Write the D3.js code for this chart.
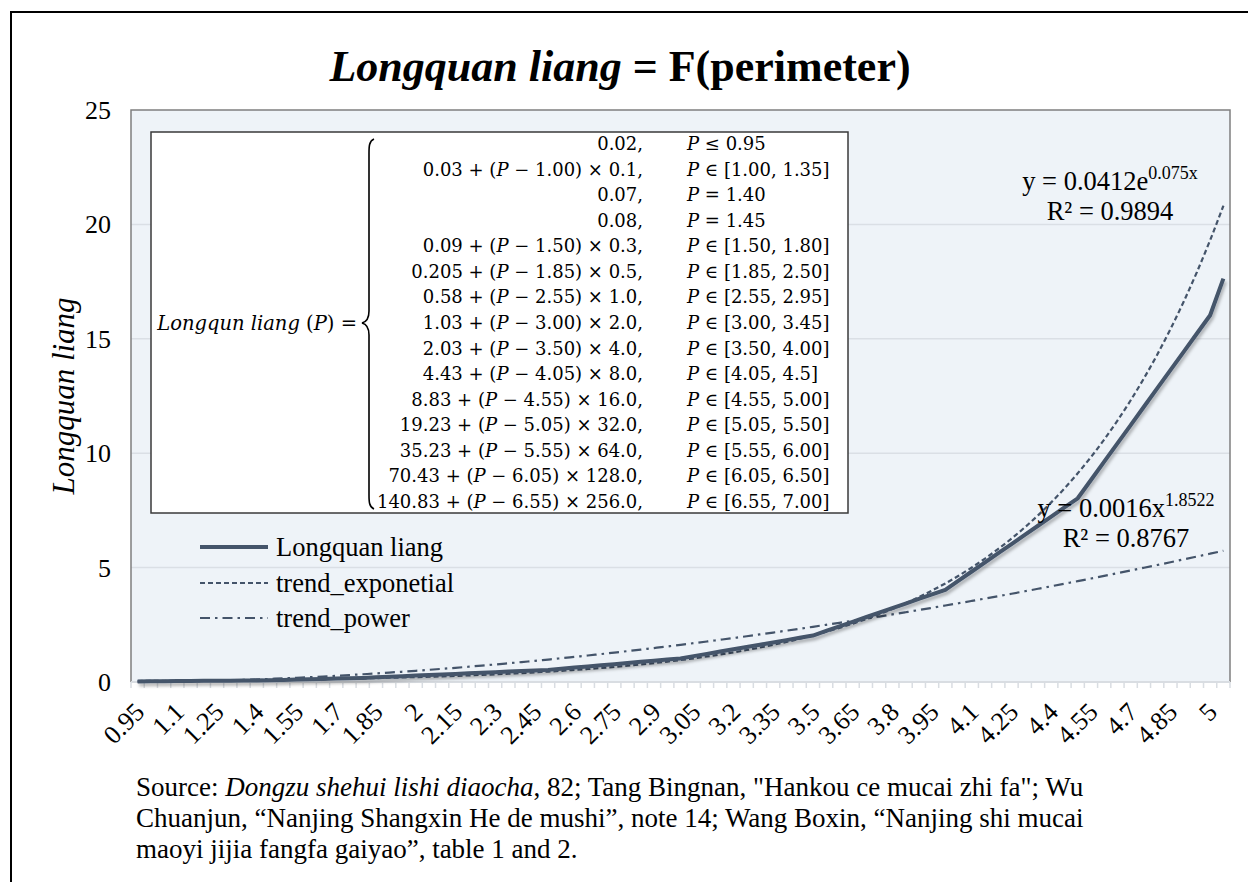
<!DOCTYPE html>
<html>
<head>
<meta charset="utf-8">
<script src="https://cdn.jsdelivr.net/npm/d3@7"></script>
<style>
  html, body { margin: 0; padding: 0; background: #fff; }
  svg { display: block; }
  text { font-family: "Liberation Serif", "Times New Roman", serif; fill: #000; }
  .math { font-family: "DejaVu Serif", serif; }
</style>
</head>
<body>
<svg id="chart" width="1248" height="882"></svg>
<script>
// perimeter categories (x axis) and Longquan liang values
const perimeter = [
  0.95, 1, 1.05, 1.1, 1.15, 1.2, 1.25, 1.3, 1.35, 1.4, 1.45, 1.5, 1.55, 1.6, 1.65, 1.7, 1.75, 1.8,
  1.85, 1.9, 1.95, 2, 2.05, 2.1, 2.15, 2.2, 2.25, 2.3, 2.35, 2.4, 2.45, 2.5, 2.55, 2.6, 2.65, 2.7,
  2.75, 2.8, 2.85, 2.9, 2.95, 3, 3.05, 3.1, 3.15, 3.2, 3.25, 3.3, 3.35, 3.4, 3.45, 3.5, 3.55, 3.6,
  3.65, 3.7, 3.75, 3.8, 3.85, 3.9, 3.95, 4, 4.05, 4.1, 4.15, 4.2, 4.25, 4.3, 4.35, 4.4, 4.45, 4.5,
  4.55, 4.6, 4.65, 4.7, 4.75, 4.8, 4.85, 4.9, 4.95, 5, 5.05
];
const liang = [
  0.02, 0.03, 0.035, 0.04, 0.045, 0.05, 0.055, 0.06, 0.065, 0.07, 0.08, 0.09, 0.105, 0.12, 0.135, 0.15, 0.165, 0.18,
  0.205, 0.23, 0.255, 0.28, 0.305, 0.33, 0.355, 0.38, 0.405, 0.43, 0.455, 0.48, 0.505, 0.53, 0.58, 0.63, 0.68, 0.73,
  0.78, 0.83, 0.88, 0.93, 0.98, 1.03, 1.13, 1.23, 1.33, 1.43, 1.53, 1.63, 1.73, 1.83, 1.93, 2.03, 2.23, 2.43,
  2.63, 2.83, 3.03, 3.23, 3.43, 3.63, 3.83, 4.03, 4.43, 4.83, 5.23, 5.63, 6.03, 6.43, 6.83, 7.23, 7.63, 8.03,
  8.83, 9.63, 10.43, 11.23, 12.03, 12.83, 13.63, 14.43, 15.23, 16.03, 17.63
];

// Excel trendline coefficients as printed on the chart (x = category number 1..83)
const expFit = [0.0412, 0.075];
const powerFit = [0.0016, 1.8522];

const yTicks = [0, 5, 10, 15, 20, 25];
const xLabelStep = 3;

const legendNames = ["Longquan liang", "trend_exponetial", "trend_power"];

// piecewise definition shown in the inset box
const formulaLeft = [
  "0.02,", "0.03 + (P − 1.00) × 0.1,", "0.07,", "0.08,", "0.09 + (P − 1.50) × 0.3,",
  "0.205 + (P − 1.85) × 0.5,", "0.58 + (P − 2.55) × 1.0,", "1.03 + (P − 3.00) × 2.0,",
  "2.03 + (P − 3.50) × 4.0,", "4.43 + (P − 4.05) × 8.0,", "8.83 + (P − 4.55) × 16.0,",
  "19.23 + (P − 5.05) × 32.0,", "35.23 + (P − 5.55) × 64.0,", "70.43 + (P − 6.05) × 128.0,",
  "140.83 + (P − 6.55) × 256.0,"
];
const formulaRight = [
  "P ≤ 0.95", "P ∈ [1.00, 1.35]", "P = 1.40", "P = 1.45", "P ∈ [1.50, 1.80]",
  "P ∈ [1.85, 2.50]", "P ∈ [2.55, 2.95]", "P ∈ [3.00, 3.45]", "P ∈ [3.50, 4.00]",
  "P ∈ [4.05, 4.5]", "P ∈ [4.55, 5.00]", "P ∈ [5.05, 5.50]", "P ∈ [5.55, 6.00]",
  "P ∈ [6.05, 6.50]", "P ∈ [6.55, 7.00]"
];

const sourceLines = [
  [["Source: ", false], ["Dongzu shehui lishi diaocha", true], [", 82; Tang Bingnan, \"Hankou ce mucai zhi fa\"; Wu", false]],
  [["Chuanjun, “Nanjing Shangxin He de mushi”, note 14; Wang Boxin, “Nanjing shi mucai", false]],
  [["maoyi jijia fangfa gaiyao”, table 1 and 2.", false]]
];

const svg = d3.select("#chart");
const lineColor = "#44546a";

const plot = { left: 131, right: 1230, top: 110, bottom: 682 };

const x = d3.scaleBand()
  .domain(d3.range(perimeter.length))
  .range([plot.left, plot.right]);
const xc = i => x(i) + x.bandwidth() / 2;

const y = d3.scaleLinear()
  .domain([0, 25])
  .range([plot.bottom, plot.top]);

// drop shadow for the main series
const defs = svg.append("defs");
defs.append("filter")
  .attr("id", "shadow")
  .attr("x", "-5%").attr("y", "-5%").attr("width", "110%").attr("height", "120%")
  .append("feDropShadow")
  .attr("dx", 1.5).attr("dy", 3).attr("stdDeviation", 1.6)
  .attr("flood-color", "#000").attr("flood-opacity", 0.28);

// outer frame (only the top and left edges fall inside the picture)
svg.append("path")
  .attr("d", "M11,882V12H1248")
  .attr("fill", "none")
  .attr("stroke", "#000")
  .attr("stroke-width", 2);

// title
const title = svg.append("text")
  .attr("x", 620).attr("y", 81)
  .attr("text-anchor", "middle")
  .attr("font-size", 44)
  .attr("font-weight", "bold");
title.append("tspan").attr("font-style", "italic").text("Longquan liang");
title.append("tspan").text(" = F(perimeter)");

// plot area
svg.append("rect")
  .attr("x", plot.left).attr("y", plot.top)
  .attr("width", plot.right - plot.left).attr("height", plot.bottom - plot.top)
  .attr("fill", "#eef3f8");

svg.append("g")
  .selectAll("line")
  .data(yTicks.filter(t => t > 0 && t < 25))
  .join("line")
  .attr("x1", plot.left).attr("x2", plot.right)
  .attr("y1", d => y(d)).attr("y2", d => y(d))
  .attr("stroke", "#dadfe5")
  .attr("stroke-width", 1.5);

svg.append("path")
  .attr("d", `M${plot.left},${plot.bottom}V${plot.top}H${plot.right}V${plot.bottom}`)
  .attr("fill", "none")
  .attr("stroke", "#7f7f7f")
  .attr("stroke-width", 1.5);

// y axis labels
const yAxis = svg.append("g")
  .attr("transform", `translate(${plot.left - 20}, 0)`)
  .call(d3.axisLeft(y).tickValues(yTicks).tickSize(0).tickPadding(0));
yAxis.select(".domain").remove();
yAxis.selectAll("text")
  .attr("font-size", 26)
  .attr("font-family", "Liberation Serif, serif")
  .attr("fill", "#000")
  .attr("dy", "0.33em");

svg.append("text")
  .attr("transform", `translate(74, ${(plot.top + plot.bottom) / 2}) rotate(-90)`)
  .attr("text-anchor", "middle")
  .attr("font-size", 31)
  .attr("font-style", "italic")
  .text("Longquan liang");

// x axis: light line with a minor tick at every category boundary
svg.append("line")
  .attr("x1", plot.left).attr("x2", plot.right)
  .attr("y1", plot.bottom).attr("y2", plot.bottom)
  .attr("stroke", "#d9dde2")
  .attr("stroke-width", 2);

svg.append("g")
  .selectAll("line")
  .data(d3.range(perimeter.length + 1))
  .join("line")
  .attr("x1", i => plot.left + i * x.bandwidth())
  .attr("x2", i => plot.left + i * x.bandwidth())
  .attr("y1", plot.bottom).attr("y2", plot.bottom + 6)
  .attr("stroke", "#d9dde2")
  .attr("stroke-width", 1.5);

svg.append("g")
  .selectAll("text")
  .data(d3.range(0, perimeter.length, xLabelStep))
  .join("text")
  .attr("transform", i => `translate(${xc(i) + 2}, ${plot.bottom + 25}) rotate(-45)`)
  .attr("text-anchor", "end")
  .attr("dy", "0.35em")
  .attr("font-size", 26)
  .text(i => String(perimeter[i]));

// series
const line = d3.line()
  .x((d, i) => xc(i))
  .y(d => y(d));

const expValues = perimeter.map((p, i) => expFit[0] * Math.exp(expFit[1] * (i + 1)));
const powerValues = perimeter.map((p, i) => powerFit[0] * Math.pow(i + 1, powerFit[1]));

svg.append("path")
  .datum(powerValues)
  .attr("d", line.curve(d3.curveMonotoneX))
  .attr("fill", "none")
  .attr("stroke", lineColor)
  .attr("stroke-width", 2.2)
  .attr("stroke-dasharray", "10,5,2.5,5");

svg.append("path")
  .datum(expValues)
  .attr("d", line.curve(d3.curveMonotoneX))
  .attr("fill", "none")
  .attr("stroke", lineColor)
  .attr("stroke-width", 2.2)
  .attr("stroke-dasharray", "5,3");

svg.append("path")
  .datum(liang)
  .attr("d", line.curve(d3.curveLinear))
  .attr("fill", "none")
  .attr("stroke", lineColor)
  .attr("stroke-width", 4)
  .attr("stroke-linejoin", "round")
  .attr("filter", "url(#shadow)");

// trendline labels
function trendLabel(cx, by, base, sup, r2) {
  const t = svg.append("text")
    .attr("x", cx).attr("y", by)
    .attr("text-anchor", "middle")
    .attr("font-size", 26.5);
  t.append("tspan").text(base);
  t.append("tspan").attr("font-size", 18).attr("dy", -11).text(sup);
  svg.append("text")
    .attr("x", cx).attr("y", by + 30)
    .attr("text-anchor", "middle")
    .attr("font-size", 26.5)
    .text(r2);
}
trendLabel(1110, 190, "y = 0.0412e", "0.075x", "R² = 0.9894");
trendLabel(1126, 517, "y = 0.0016x", "1.8522", "R² = 0.8767");

// formula inset
const box = { left: 151, top: 132, right: 848, bottom: 513 };
svg.append("rect")
  .attr("x", box.left).attr("y", box.top)
  .attr("width", box.right - box.left).attr("height", box.bottom - box.top)
  .attr("fill", "#fff")
  .attr("stroke", "#3a3a3a")
  .attr("stroke-width", 1.5);

const rowY = d3.scaleLinear().domain([0, formulaLeft.length - 1]).range([150, 508]);

function mathText(sel, str) {
  // italic P, everything else upright
  str.split(/(P)/).forEach(part => {
    if (part === "") return;
    sel.append("tspan")
      .attr("font-style", part === "P" ? "italic" : "normal")
      .text(part);
  });
}

svg.append("g")
  .selectAll("text")
  .data(formulaLeft)
  .join("text")
  .attr("class", "math")
  .attr("x", 643)
  .attr("y", (d, i) => rowY(i))
  .attr("text-anchor", "end")
  .attr("font-size", 18)
  .each(function (d) { mathText(d3.select(this), d); });

svg.append("g")
  .selectAll("text")
  .data(formulaRight)
  .join("text")
  .attr("class", "math")
  .attr("x", 687)
  .attr("y", (d, i) => rowY(i))
  .attr("font-size", 18)
  .each(function (d) { mathText(d3.select(this), d); });

const lhs = svg.append("text")
  .attr("class", "math")
  .attr("x", 357).attr("y", 330)
  .attr("text-anchor", "end")
  .attr("font-size", 19.5);
lhs.append("tspan").attr("font-style", "italic").text("Longqun liang");
lhs.append("tspan").text(" (");
lhs.append("tspan").attr("font-style", "italic").text("P");
lhs.append("tspan").text(") =");

// big left brace
const bx = 369, bTop = 139, bBot = 509, bMid = 323;
svg.append("path")
  .attr("d", `M${bx + 5},${bTop} C${bx},${bTop + 2} ${bx},${bTop + 8} ${bx},${bTop + 14}
    L${bx},${bMid - 12} C${bx},${bMid - 4} ${bx - 3},${bMid - 1} ${bx - 7},${bMid}
    C${bx - 3},${bMid + 1} ${bx},${bMid + 4} ${bx},${bMid + 12}
    L${bx},${bBot - 14} C${bx},${bBot - 8} ${bx},${bBot - 2} ${bx + 5},${bBot}`)
  .attr("fill", "none")
  .attr("stroke", "#000")
  .attr("stroke-width", 1.6);

// legend
const legendY = [547, 583, 618];
const legendDash = [null, "5,3", "10,5,2.5,5"];
const legendWidth = [4, 2.2, 2.2];
const legend = svg.append("g")
  .selectAll("g")
  .data(legendNames)
  .join("g")
  .attr("transform", (d, i) => `translate(200, ${legendY[i]})`);
legend.append("line")
  .attr("x1", 0).attr("x2", 68)
  .attr("stroke", lineColor)
  .attr("stroke-width", (d, i) => legendWidth[i])
  .attr("stroke-dasharray", (d, i) => legendDash[i]);
legend.append("text")
  .attr("x", 76).attr("dy", "0.33em")
  .attr("font-size", 26.5)
  .text(d => d);

// source note
const source = svg.append("g")
  .selectAll("text")
  .data(sourceLines)
  .join("text")
  .attr("x", 136)
  .attr("y", (d, i) => 796 + i * 31)
  .attr("font-size", 27);
source.each(function (parts) {
  const t = d3.select(this);
  parts.forEach(([s, it]) => t.append("tspan").attr("font-style", it ? "italic" : "normal").text(s));
});
</script>
</body>
</html>
